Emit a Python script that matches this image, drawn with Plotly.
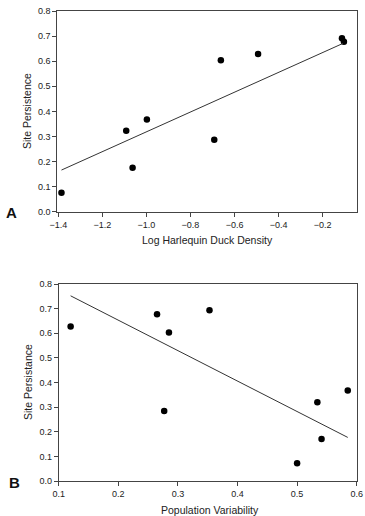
import plotly.graph_objects as go

# Panel A data
density_x = [-1.386, -1.092, -1.063, -0.998, -0.692, -0.662, -0.493, -0.112, -0.103]
persistence_a = [0.076, 0.323, 0.175, 0.368, 0.287, 0.604, 0.629, 0.691, 0.677]
fit_a_x = [-1.386, -0.107]
fit_a_y = [0.166, 0.671]

# Panel B data
variability_x = [0.120, 0.265, 0.285, 0.353, 0.277, 0.585, 0.534, 0.541, 0.500]
persistence_b = [0.627, 0.677, 0.603, 0.693, 0.284, 0.368, 0.320, 0.171, 0.072]
fit_b_x = [0.120, 0.585]
fit_b_y = [0.752, 0.177]

y_ticks = [0.0, 0.1, 0.2, 0.3, 0.4, 0.5, 0.6, 0.7, 0.8]
xa_ticks = [-1.4, -1.2, -1.0, -0.8, -0.6, -0.4, -0.2]
xb_ticks = [0.1, 0.2, 0.3, 0.4, 0.5, 0.6]

W, H = 365, 516
FONT = "Liberation Sans, Arial, sans-serif"
AX = "#444"

fig = go.Figure()
marker = dict(color="black", size=6.5)
line = dict(color="#333", width=1)

fig.add_trace(go.Scatter(x=density_x, y=persistence_a, mode="markers", marker=marker,
                         xaxis="x", yaxis="y", showlegend=False))
fig.add_trace(go.Scatter(x=fit_a_x, y=fit_a_y, mode="lines", line=line,
                         xaxis="x", yaxis="y", showlegend=False))
fig.add_trace(go.Scatter(x=variability_x, y=persistence_b, mode="markers", marker=marker,
                         xaxis="x2", yaxis="y2", showlegend=False))
fig.add_trace(go.Scatter(x=fit_b_x, y=fit_b_y, mode="lines", line=line,
                         xaxis="x2", yaxis="y2", showlegend=False))

def px_x(p):
    return p / W

def px_y(p):
    return 1 - p / H

common = dict(showline=True, linecolor=AX, linewidth=1, mirror=True, ticks="outside",
              ticklen=4, tickcolor=AX, tickwidth=1, showgrid=False, zeroline=False,
              automargin=False,
              tickfont=dict(family=FONT, size=9, color="#222"), tickformat=".1f")

def note(text, x, y, size=10.5, angle=0, bold=False):
    return dict(text=f"<b>{text}</b>" if bold else text, x=px_x(x), y=px_y(y),
                xref="paper", yref="paper", showarrow=False, textangle=angle,
                font=dict(family=FONT, size=size, color="#111" if bold else "#222"),
                xanchor="center", yanchor="middle")

fig.update_layout(
    width=W, height=H, margin=dict(l=0, r=0, t=0, b=0),
    paper_bgcolor="white", plot_bgcolor="white",
    font=dict(family=FONT, color="#222"),
    xaxis=dict(domain=[px_x(57.3), px_x(356.7)], range=[-1.405, -0.045], anchor="y",
               tickvals=xa_ticks, **common),
    yaxis=dict(domain=[px_y(211.7), px_y(11)], range=[0, 0.8], anchor="x",
               tickvals=y_ticks, **common),
    xaxis2=dict(domain=[px_x(58.7), px_x(356.7)], range=[0.1, 0.6], anchor="y2",
                tickvals=xb_ticks, **common),
    yaxis2=dict(domain=[px_y(481), px_y(284)], range=[0, 0.8], anchor="x2",
                tickvals=y_ticks, **common),
    annotations=[
        note("Log Harlequin Duck Density", 207, 240),
        note("Site Persistence", 27, 111, angle=-90),
        note("Population Variability", 209.5, 510),
        note("Site Persistance", 28, 382, angle=-90),
        note("A", 11.5, 212, size=15, bold=True),
        note("B", 14, 482, size=15, bold=True),
    ],
)

fig.write_html("out.html", config={"displayModeBar": False},
               post_script="document.body.style.margin='0';")
